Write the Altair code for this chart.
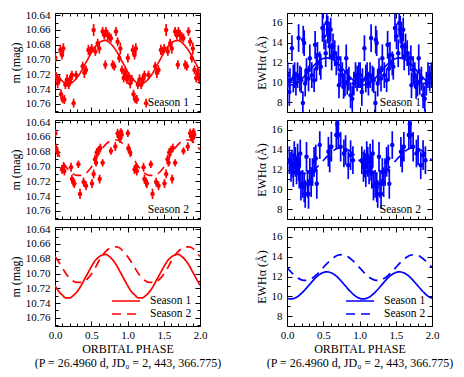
import altair as alt
import pandas as pd

RED = "#ff0000"
BLUE = "#0000ff"
FONT = "Liberation Serif"
W, H = 145, 99

# ---------------- observed data (orbital phase 0-1, drawn over two cycles) ----
mag1_phase = [0.005, 0.014, 0.037, 0.060, 0.074, 0.083, 0.097, 0.106, 0.115, 0.129,
              0.143, 0.166, 0.189, 0.207, 0.221, 0.234, 0.257, 0.290, 0.382, 0.405,
              0.428, 0.460, 0.483, 0.506, 0.533, 0.556, 0.589, 0.611, 0.657, 0.680,
              0.694, 0.703, 0.726, 0.749, 0.772, 0.795, 0.818, 0.841, 0.864, 0.887,
              0.901, 0.924, 0.947, 0.966, 0.979, 0.993]
mag1_val = [10.698, 10.723, 10.732, 10.727, 10.687, 10.747, 10.694, 10.754, 10.685, 10.754,
            10.734, 10.727, 10.734, 10.727, 10.725, 10.721, 10.759, 10.721, 10.709, 10.718,
            10.714, 10.687, 10.689, 10.685, 10.660, 10.689, 10.678, 10.685, 10.662, 10.667,
            10.707, 10.662, 10.667, 10.669, 10.671, 10.707, 10.709, 10.662, 10.676, 10.698,
            10.685, 10.714, 10.725, 10.718, 10.721, 10.727]
mag1_err = [0.006, 0.006, 0.007, 0.006, 0.007, 0.006, 0.006, 0.005, 0.007, 0.006,
            0.006, 0.007, 0.006, 0.006, 0.007, 0.006, 0.006, 0.006, 0.006, 0.007,
            0.006, 0.007, 0.006, 0.006, 0.008, 0.006, 0.006, 0.007, 0.006, 0.006,
            0.006, 0.006, 0.007, 0.006, 0.006, 0.006, 0.006, 0.006, 0.006, 0.006,
            0.008, 0.006, 0.006, 0.007, 0.006, 0.006]

mag2_phase = [0.005, 0.014, 0.037, 0.097, 0.115, 0.129, 0.221, 0.234, 0.253, 0.267,
              0.322, 0.345, 0.395, 0.428, 0.510, 0.533, 0.552, 0.566, 0.575, 0.602,
              0.616, 0.625, 0.657, 0.772, 0.832, 0.864, 0.878, 0.897, 0.910, 0.920]
mag2_val = [10.655, 10.675, 10.681, 10.704, 10.701, 10.706, 10.701, 10.717, 10.721, 10.723,
            10.697, 10.737, 10.721, 10.726, 10.723, 10.710, 10.690, 10.695, 10.681, 10.677,
            10.717, 10.675, 10.695, 10.679, 10.673, 10.655, 10.659, 10.662, 10.653, 10.657]
mag2_err = [0.005, 0.006, 0.006, 0.006, 0.005, 0.006, 0.006, 0.006, 0.006, 0.006,
            0.005, 0.007, 0.006, 0.006, 0.006, 0.006, 0.006, 0.005, 0.006, 0.005,
            0.006, 0.006, 0.005, 0.005, 0.006, 0.006, 0.005, 0.006, 0.005, 0.006]

ew1_phase = [0.009, 0.032, 0.041, 0.068, 0.087, 0.105, 0.123, 0.146, 0.160, 0.178,
             0.196, 0.219, 0.224, 0.237, 0.251, 0.269, 0.297, 0.315, 0.342, 0.374,
             0.388, 0.406, 0.420, 0.452, 0.466, 0.489, 0.511, 0.534, 0.548, 0.562,
             0.580, 0.589, 0.603, 0.616, 0.635, 0.658, 0.680, 0.708, 0.717, 0.740,
             0.763, 0.781, 0.799, 0.817, 0.831, 0.854, 0.877, 0.900, 0.922, 0.945,
             0.968, 0.991]
ew1_val = [10.72, 9.02, 10.21, 13.45, 10.38, 10.72, 9.87, 10.72, 14.47, 10.38,
           10.21, 7.90, 14.30, 13.96, 9.87, 11.23, 10.38, 12.43, 10.72, 10.21,
           13.79, 11.40, 12.77, 11.91, 11.57, 15.49, 14.64, 12.94, 16.00, 15.32,
           14.81, 13.62, 15.32, 12.60, 13.62, 12.94, 11.91, 12.43, 9.70, 11.23,
           10.72, 9.53, 9.87, 12.43, 10.04, 10.38, 8.68, 8.34, 9.87, 10.72,
           10.38, 10.72]
ew1_err = [1.3, 1.4, 1.2, 1.3, 1.4, 1.3, 1.2, 1.3, 1.4, 1.3,
           1.3, 1.2, 1.4, 1.3, 1.3, 1.2, 1.3, 1.4, 1.3, 1.2,
           1.4, 1.3, 1.3, 1.2, 1.3, 1.4, 1.3, 1.4, 1.3, 1.4,
           1.3, 1.3, 1.2, 1.4, 1.3, 1.3, 1.2, 1.3, 1.3, 1.4,
           1.3, 1.2, 1.3, 1.4, 1.3, 1.2, 1.3, 1.3, 1.2, 1.3,
           1.3, 1.3]

ew2_phase = [0.032, 0.055, 0.068, 0.087, 0.100, 0.114, 0.132, 0.146, 0.160, 0.169,
             0.183, 0.192, 0.215, 0.237, 0.251, 0.269, 0.283, 0.297, 0.315, 0.333,
             0.352, 0.374, 0.397, 0.411, 0.452, 0.571, 0.589, 0.612, 0.680, 0.694,
             0.708, 0.740, 0.785, 0.808, 0.845, 0.877, 0.909]
ew2_val = [12.94, 12.26, 12.60, 11.74, 13.45, 12.77, 11.91, 13.11, 12.26, 11.57,
           13.62, 10.38, 10.55, 10.21, 9.53, 13.28, 10.55, 9.53, 11.74, 10.72,
           11.74, 12.77, 13.11, 10.55, 14.47, 13.79, 13.11, 14.30, 15.49, 16.60,
           15.49, 14.30, 13.62, 13.96, 12.43, 13.45, 12.94]
ew2_err = [1.4, 1.5, 1.4, 1.5, 1.4, 1.5, 1.4, 1.5, 1.4, 1.5,
           1.4, 1.5, 1.4, 1.5, 1.4, 1.5, 1.4, 1.5, 1.4, 1.5,
           1.4, 1.5, 1.4, 1.5, 1.4, 1.5, 1.4, 1.5, 1.4, 1.5,
           1.4, 1.5, 1.4, 1.5, 1.4, 1.5, 1.4]

# ---------------- fitted curves (read at phase steps of 0.05) ----------------
curve_phase = [0.00, 0.05, 0.10, 0.15, 0.20, 0.25, 0.30, 0.35, 0.40, 0.45, 0.50,
               0.55, 0.60, 0.65, 0.70, 0.75, 0.80, 0.85, 0.90, 0.95, 1.00]
mag1_fit = [10.716, 10.724, 10.729, 10.733, 10.733, 10.730, 10.725, 10.718, 10.709, 10.700,
            10.691, 10.683, 10.678, 10.675, 10.674, 10.677, 10.682, 10.689, 10.698, 10.707, 10.716]
mag2_fit = [10.677, 10.684, 10.692, 10.700, 10.706, 10.710, 10.712, 10.712, 10.711, 10.707,
            10.701, 10.693, 10.684, 10.676, 10.670, 10.666, 10.664, 10.664, 10.666, 10.671, 10.677]
ew1_fit = [9.80, 9.73, 9.80, 9.99, 10.30, 10.68, 11.10, 11.52, 11.91, 12.21,
           12.40, 12.47, 12.40, 12.21, 11.91, 11.52, 11.10, 10.68, 10.30, 9.99, 9.80]
ew2_fit = [12.90, 12.50, 12.14, 11.85, 11.66, 11.60, 11.66, 11.85, 12.14, 12.50,
           12.90, 13.30, 13.66, 13.95, 14.14, 14.20, 14.14, 13.95, 13.66, 13.30, 12.90]

seasons = ["Season 1", "Season 2"]

# ---------------- axis ticks ----------------
x_major = [0.0, 0.5, 1.0, 1.5, 2.0]
x_minor = [0.1, 0.2, 0.3, 0.4, 0.6, 0.7, 0.8, 0.9, 1.1, 1.2, 1.3, 1.4, 1.6, 1.7, 1.8, 1.9]
mag_major = [10.64, 10.66, 10.68, 10.70, 10.72, 10.74, 10.76]
mag_minor = [10.65, 10.67, 10.69, 10.71, 10.73, 10.75, 10.77]
ew_major = [8, 10, 12, 14, 16]
ew_minor = [9, 11, 13, 15]
x_title = ["ORBITAL PHASE", "(P = 26.4960 d, JD\u2080 = 2, 443, 366.775)"]


def points_df(phase, val, err):
    ph = list(phase) + [p + 1.0 for p in phase]
    v = list(val) * 2
    e = list(err) * 2
    return pd.DataFrame({"phase": ph, "val": v,
                         "lo": [a - b for a, b in zip(v, e)],
                         "hi": [a + b for a, b in zip(v, e)]})


def curve_df(vals, season):
    ph = curve_phase + [p + 1.0 for p in curve_phase[1:]]
    v = list(vals) + list(vals[1:])
    return pd.DataFrame({"phase": ph, "val": v, "season": season})


COMMON = dict(domain=False, grid=False, tickColor="black", tickWidth=1,
              labelFont=FONT, labelFontSize=11, labelColor="black",
              labelFlush=False, labelOverlap=False,
              titleFont=FONT, titleFontSize=12, titleFontWeight="normal",
              titleColor="black")


def axis_layers(df, xs, ys, fmt, ytitle, ymaj, ymin, bottom):
    out = []
    for xo, yo, size, xv, yv, main in [("bottom", "left", 5, x_major, ymaj, True),
                                       ("bottom", "left", 3, x_minor, ymin, False),
                                       ("top", "right", 5, x_major, ymaj, False),
                                       ("top", "right", 3, x_minor, ymin, False)]:
        xa = dict(COMMON, orient=xo, values=xv, tickSize=size, offset=-size,
                  labels=bool(main and bottom))
        if main and bottom:
            xa.update(format=".1f", labelPadding=3, title=x_title,
                      titlePadding=3, titleLineHeight=14)
        else:
            xa["title"] = None
        ya = dict(COMMON, orient=yo, values=yv, tickSize=size, offset=-size,
                  labels=main)
        if main:
            ya.update(format=fmt, labelPadding=5, title=ytitle, titlePadding=3)
        else:
            ya["title"] = None
        out.append(alt.Chart(df).mark_point(opacity=0, size=1).encode(
            x=alt.X("phase:Q", scale=xs, axis=alt.Axis(**xa)),
            y=alt.Y("val:Q", scale=ys, axis=alt.Axis(**ya))))
    return out


def scales(ydom, yrev):
    xs = alt.Scale(domain=[0, 2], nice=False, zero=False)
    ys = alt.Scale(domain=ydom, reverse=yrev, nice=False, zero=False)
    return xs, ys


def data_panel(pts, fit, color, dashed, label, ydom, yrev, fmt, ytitle, ymaj, ymin):
    xs, ys = scales(ydom, yrev)
    X = alt.X("phase:Q", scale=xs, axis=None)
    bars = alt.Chart(pts).mark_rule(color=color, strokeWidth=1.7, clip=True).encode(
        x=X, y=alt.Y("lo:Q", scale=ys, axis=None), y2="hi:Q")
    dots = alt.Chart(pts).mark_circle(color=color, size=20, opacity=1, clip=True).encode(
        x=X, y=alt.Y("val:Q", scale=ys, axis=None))
    lkw = dict(color=color, strokeWidth=1.6, interpolate="monotone", clip=True)
    if dashed:
        lkw["strokeDash"] = [9, 6]
    line = alt.Chart(fit).mark_line(**lkw).encode(
        x=X, y=alt.Y("val:Q", scale=ys, axis=None))
    txt = alt.Chart(pd.DataFrame({"label": [label]})).mark_text(
        align="right", baseline="alphabetic", font=FONT, fontSize=11.5, color="black"
    ).encode(x=alt.value(W - 11), y=alt.value(H - 6), text="label:N")
    axes = axis_layers(fit, xs, ys, fmt, ytitle, ymaj, ymin, False)
    return alt.layer(bars, dots, line, txt, *axes).resolve_axis(
        x="independent", y="independent").properties(width=W, height=H)


def fit_panel(fits, color, lx, ydom, yrev, fmt, ytitle, ymaj, ymin):
    xs, ys = scales(ydom, yrev)
    line = alt.Chart(fits).mark_line(color=color, strokeWidth=1.7,
                                     interpolate="monotone", clip=True).encode(
        x=alt.X("phase:Q", scale=xs, axis=None),
        y=alt.Y("val:Q", scale=ys, axis=None),
        strokeDash=alt.StrokeDash(
            "season:N",
            scale=alt.Scale(domain=seasons, range=[[1, 0], [9, 6]]),
            legend=alt.Legend(orient="none", legendX=lx, legendY=68, title=None,
                              symbolType="M-3,0H3", symbolSize=87,
                              symbolStrokeWidth=1.7, symbolStrokeColor=color,
                              symbolFillColor="transparent",
                              labelFont=FONT, labelFontSize=11.5, labelColor="black",
                              labelOffset=18, rowPadding=1, padding=0)))
    axes = axis_layers(fits, xs, ys, fmt, ytitle, ymaj, ymin, True)
    return alt.layer(line, *axes).resolve_axis(
        x="independent", y="independent").properties(width=W, height=H)


MAG_DOM = [10.637, 10.771]
EW_DOM = [7, 17]
MAG_T = "m (mag)"
EW_T = "EWH\u03b1 (\u00c5)"

pL1 = data_panel(points_df(mag1_phase, mag1_val, mag1_err), curve_df(mag1_fit, seasons[0]),
                 RED, False, seasons[0], MAG_DOM, True, ".2f", MAG_T, mag_major, mag_minor)
pL2 = data_panel(points_df(mag2_phase, mag2_val, mag2_err), curve_df(mag2_fit, seasons[1]),
                 RED, True, seasons[1], MAG_DOM, True, ".2f", MAG_T, mag_major, mag_minor)
pL3 = fit_panel(pd.concat([curve_df(mag1_fit, seasons[0]), curve_df(mag2_fit, seasons[1])]),
                RED, 65, MAG_DOM, True, ".2f", MAG_T, mag_major, mag_minor)

pR1 = data_panel(points_df(ew1_phase, ew1_val, ew1_err), curve_df(ew1_fit, seasons[0]),
                 BLUE, False, seasons[0], EW_DOM, False, "d", EW_T, ew_major, ew_minor)
pR2 = data_panel(points_df(ew2_phase, ew2_val, ew2_err), curve_df(ew2_fit, seasons[1]),
                 BLUE, True, seasons[1], EW_DOM, False, "d", EW_T, ew_major, ew_minor)
pR3 = fit_panel(pd.concat([curve_df(ew1_fit, seasons[0]), curve_df(ew2_fit, seasons[1])]),
                BLUE, 67, EW_DOM, False, "d", EW_T, ew_major, ew_minor)

chart = alt.concat(pL1, pR1, pL2, pR2, pL3, pR3, columns=2).properties(
    spacing={"row": 8, "column": 87}, bounds="flush", padding=0, background="white"
).resolve_scale(strokeDash="independent").resolve_legend(
    strokeDash="independent"
).configure(font=FONT).configure_view(stroke="black", strokeWidth=1)

chart.save("out.html", embed_options={"renderer": "svg", "actions": False})
